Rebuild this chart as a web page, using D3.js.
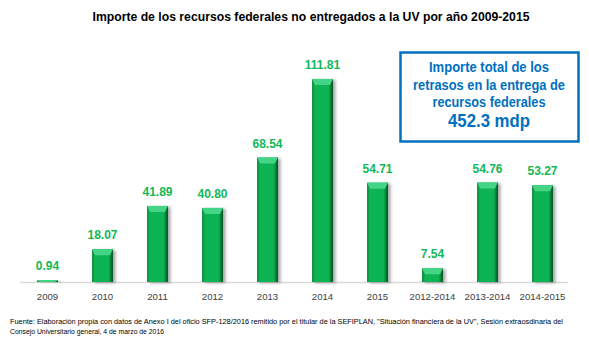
<!DOCTYPE html>
<html>
<head>
<meta charset="utf-8">
<script src="https://cdn.jsdelivr.net/npm/d3@7"></script>
<style>
  body { margin: 0; background: #fff; }
  svg { display: block; font-family: "Liberation Sans", Arial, sans-serif; }
</style>
</head>
<body>
<svg id="chart" width="589" height="351"></svg>
<script>
// chart data
var categories = ["2009", "2010", "2011", "2012", "2013", "2014", "2015", "2012-2014", "2013-2014", "2014-2015"];
var values = [0.94, 18.07, 41.89, 40.80, 68.54, 111.81, 54.71, 7.54, 54.76, 53.27];
var valueLabels = ["0.94", "18.07", "41.89", "40.80", "68.54", "111.81", "54.71", "7.54", "54.76", "53.27"];

var title = "Importe de los recursos federales no entregados a la UV  por año 2009-2015";
var boxLines = ["Importe total de los", "retrasos en la entrega de", "recursos federales"];
var boxTotal = "452.3 mdp";
var footLines = [
  "Fuente: Elaboración propia con datos de Anexo I del oficio SFP-128/2016 remitido por el titular de la SEFIPLAN,  \"Situación financiera de la UV\", Sesión extraosdinaria del",
  "Consejo  Universitario general, 4 de marzo de 2016"
];

var svg = d3.select("#chart");

// gradients for the bevelled bars
var defs = svg.append("defs");
var grad = defs.append("linearGradient").attr("id", "barGrad")
    .attr("x1", "0%").attr("x2", "100%").attr("y1", "0%").attr("y2", "0%");
grad.append("stop").attr("offset", "0%").attr("stop-color", "#06853a");
grad.append("stop").attr("offset", "14%").attr("stop-color", "#0cb452");
grad.append("stop").attr("offset", "78%").attr("stop-color", "#0cb452");
grad.append("stop").attr("offset", "88%").attr("stop-color", "#078a3c");
grad.append("stop").attr("offset", "100%").attr("stop-color", "#024d20");

var shadow = defs.append("filter").attr("id", "shadow")
    .attr("x", "-30%").attr("y", "-10%").attr("width", "180%").attr("height", "130%");
shadow.append("feDropShadow").attr("dx", 2.5).attr("dy", 1).attr("stdDeviation", 1.5)
    .attr("flood-color", "#000").attr("flood-opacity", 0.35);

// scales
var x = d3.scaleBand()
    .domain(categories)
    .range([20, 570])
    .paddingInner(0.62)
    .paddingOuter(0.31);

var y = d3.scaleLinear()
    .domain([0, 125])
    .range([282, 55]);

// title
svg.append("text")
    .attr("x", 311)
    .attr("y", 21)
    .attr("text-anchor", "middle")
    .attr("textLength", 437)
    .attr("lengthAdjust", "spacingAndGlyphs")
    .style("font-size", "13px")
    .style("font-weight", "bold")
    .style("fill", "#000")
    .text(title);

// axis line
svg.append("line")
    .attr("x1", 20).attr("x2", 568)
    .attr("y1", y(0) + 0.5).attr("y2", y(0) + 0.5)
    .style("stroke", "#d9d9d9")
    .style("stroke-width", 1.5);

// bars
var bars = svg.append("g").selectAll("g")
    .data(values)
    .enter()
    .append("g");

bars.append("rect")
    .attr("x", function(d, i) { return x(categories[i]); })
    .attr("y", function(d) { return y(d); })
    .attr("width", x.bandwidth())
    .attr("height", function(d) { return y(0) - y(d); })
    .attr("filter", "url(#shadow)")
    .style("fill", "url(#barGrad)");

// top bevel of each bar
bars.append("path")
    .attr("d", function(d, i) {
      var x0 = x(categories[i]), w = x.bandwidth(), top = y(d);
      var h = Math.min(6, y(0) - top);
      return "M" + x0 + "," + top + "L" + (x0 + w) + "," + top +
             "L" + (x0 + w - 3) + "," + (top + h) + "L" + (x0 + 3) + "," + (top + h) + "Z";
    })
    .style("fill", "#44d486");

// value labels
bars.append("text")
    .attr("x", function(d, i) { return x(categories[i]) + x.bandwidth() / 2; })
    .attr("y", function(d) { return y(d) - 10; })
    .attr("text-anchor", "middle")
    .style("font-size", "12px")
    .style("font-weight", "bold")
    .style("fill", "#12b856")
    .text(function(d, i) { return valueLabels[i]; });

// category labels
svg.append("g").selectAll("text")
    .data(categories)
    .enter()
    .append("text")
    .attr("x", function(d) { return x(d) + x.bandwidth() / 2; })
    .attr("y", 299.5)
    .attr("text-anchor", "middle")
    .style("font-size", "9.6px")
    .style("fill", "#404040")
    .text(function(d) { return d; });

// total box
svg.append("rect")
    .attr("x", 400.5).attr("y", 52.5)
    .attr("width", 178).attr("height", 89)
    .style("fill", "#fff")
    .style("stroke", "#0070c0")
    .style("stroke-width", 2.5);

var boxWidths = [120, 152, 113];
svg.append("g").selectAll("text")
    .data(boxLines)
    .enter()
    .append("text")
    .attr("x", 489)
    .attr("y", function(d, i) { return 72 + i * 17.5; })
    .attr("text-anchor", "middle")
    .attr("textLength", function(d, i) { return boxWidths[i]; })
    .attr("lengthAdjust", "spacingAndGlyphs")
    .style("font-size", "14px")
    .style("font-weight", "bold")
    .style("fill", "#0070c0")
    .text(function(d) { return d; });

svg.append("text")
    .attr("x", 489)
    .attr("y", 127)
    .attr("text-anchor", "middle")
    .attr("textLength", 82)
    .attr("lengthAdjust", "spacingAndGlyphs")
    .style("font-size", "18px")
    .style("font-weight", "bold")
    .style("fill", "#0070c0")
    .text(boxTotal);

// footnote
var footWidths = [553, 154];
svg.append("g").selectAll("text")
    .data(footLines)
    .enter()
    .append("text")
    .attr("x", 10)
    .attr("y", function(d, i) { return 324 + i * 9.5; })
    .attr("textLength", function(d, i) { return footWidths[i]; })
    .attr("lengthAdjust", "spacingAndGlyphs")
    .style("font-size", "6.5px")
    .style("fill", "#000")
    .text(function(d) { return d; });
</script>
</body>
</html>
